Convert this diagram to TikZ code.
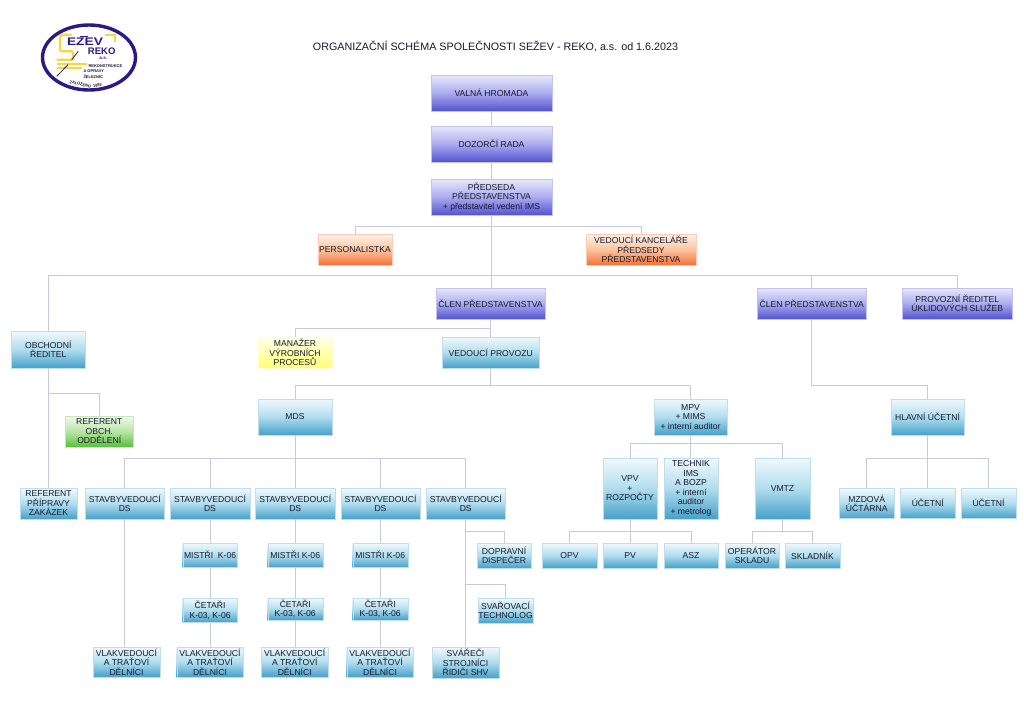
\documentclass[tikz,border=0pt]{standalone}
\usepackage{fontspec}
\setmainfont{Liberation Sans}
\definecolor{linec}{HTML}{C6C9DF}
\definecolor{ink}{HTML}{15192A}
\definecolor{VT}{HTML}{E8E8FB}\definecolor{VM}{HTML}{ABABEF}\definecolor{VB}{HTML}{5252D2}
\definecolor{CT}{HTML}{F0F9FC}\definecolor{CM}{HTML}{B0DDEE}\definecolor{CB}{HTML}{46A0CA}
\definecolor{OT}{HTML}{FFF3EA}\definecolor{OM}{HTML}{FBC4A0}\definecolor{OB}{HTML}{F47036}
\definecolor{YT}{HTML}{FFFFE8}\definecolor{YB}{HTML}{FFFF78}
\definecolor{GT}{HTML}{F2FAEE}\definecolor{GM}{HTML}{B8E4A6}\definecolor{GB}{HTML}{58C03A}
\definecolor{logob}{HTML}{2A1A86}\definecolor{logoy}{HTML}{F4D93A}
\tikzset{
  x=1pt,y=-1pt,
  boxbase/.style={rectangle,inner sep=0pt,align=center,text=ink,font=\fontsize{8.6}{9.5}\selectfont,draw=#1!35!white,line width=.4pt},
  vbox/.style={boxbase=VB,top color=VT,bottom color=VB,middle color=VM},
  cbox/.style={boxbase=CB,top color=CT,bottom color=CB,middle color=CM},
  obox/.style={boxbase=OB,top color=OT,bottom color=OB,middle color=OM},
  ybox/.style={boxbase=YB,top color=YT,bottom color=YB},
  gbox/.style={boxbase=GB,top color=GT,bottom color=GB,middle color=GM},
  conn/.style={draw=linec,line width=1pt},
  logoy/.style={draw=logoy,line width=2.3pt},
  logod/.style={draw=logob,line width=.8pt},
  logot/.style={font=\bfseries\fontsize{#1}{#1}\selectfont,text=logob,inner sep=0pt},
  logos/.style={font=\bfseries\fontsize{4}{4}\selectfont,text=ink,inner sep=0pt,anchor=west},
}
\newcommand{\bx}[7]{\node[#6,minimum width={(#4)-(#2)},minimum height={(#5)-(#3)}] (#1) at ({((#2)+(#4))/2},{((#3)+(#5))/2}) {#7};}
\newcommand{\cn}[3]{\draw[conn] (#1.south) -- (#1.south |- 0,#2) -| (#3.north);}
\newcommand{\vn}[2]{\draw[conn] (#1.south) -- (#1.south |- #2.north);}
\begin{document}
\begin{tikzpicture}
\useasboundingbox (0,0) rectangle (1024,725);
\fill[white] (0,0) rectangle (1024,725);
% logo
\draw[logob,line width=3.4pt,fill=white] (89,57.5) ellipse [x radius=46.5,y radius=32.5];
\draw[logoy,rounded corners=1.5pt] (71.7,34.7) -- (60,34.7) -- (60,51.3) -- (73.3,51.3) -- (73.3,59.7) -- (56.7,59.7);
\draw[logoy] (105,35.3) -- (115,35.3) -- (115,42);
\draw[logoy,line width=2pt] (56.7,63.6) -- (87,63.6);
\draw[logoy,line width=2pt] (56.7,68) -- (82,68);
\draw[logod] (56.7,76.3) -- (68,64.7);
\draw[logod] (71.7,59.7) -- (78.3,51.3);
\node[logot=11,xscale=1.25] (lg1) at (85,41.3) {EZEV};
\draw[logod,line width=1pt] (lg1.north west) ++(13,-.5) -- ++(8,0);
\node[logot=9.5] (lg2) at (101.7,51.3) {REKO};
\node[logot=4.6] (lg3) at (103.3,58.7) {a.s.};
\node[logos] (lg4) at (88.3,66.3) {REKONSTRUKCE};
\node[logos] (lg5) at (83.3,71) {A OPRAVY};
\node[logos] (lg6) at (83.3,76.3) {ŽELEZNIC};
\node[logos,anchor=center,rotate=-14] (lg7) at (80.5,84) {ZALOŽENO};
\node[logos,anchor=center,rotate=10] (lg8) at (97.5,85.5) {1992};
% title
\node[font=\fontsize{10.74}{12}\selectfont,text=ink,inner sep=0pt] (title) at (495.5,46) {ORGANIZAČNÍ SCHÉMA SPOLEČNOSTI SEŽEV - REKO, a.s. od 1.6.2023};
% boxes
\bx{valna}{431}{75}{552}{111}{vbox}{VALNÁ HROMADA}
\bx{dozor}{431}{126}{552}{162}{vbox}{DOZORČÍ RADA}
\bx{pred}{431}{179}{552}{215}{vbox}{PŘEDSEDA\\PŘEDSTAVENSTVA\\+ představitel vedení IMS}
\bx{pers}{318}{234}{392}{265}{obox}{PERSONALISTKA}
\bx{kanc}{586}{234}{696}{265}{obox}{VEDOUCÍ KANCELÁŘE\\PŘEDSEDY\\PŘEDSTAVENSTVA}
\bx{clen}{436}{288}{545}{319}{vbox}{ČLEN PŘEDSTAVENSTVA}
\bx{clenb}{757}{288}{866.5}{319}{vbox}{ČLEN PŘEDSTAVENSTVA}
\bx{uklid}{902.5}{288}{1012}{319}{vbox}{PROVOZNÍ ŘEDITEL\\ÚKLIDOVÝCH SLUŽEB}
\bx{obch}{11.5}{331}{85}{368}{cbox}{OBCHODNÍ\\ŘEDITEL}
\bx{manaz}{258}{337}{332}{368}{ybox}{MANAŽER\\VÝROBNÍCH\\PROCESŮ}
\bx{vedp}{442}{337}{539.5}{368}{cbox}{VEDOUCÍ PROVOZU}
\bx{mds}{258}{399}{332}{435}{cbox}{MDS}
\bx{mpv}{654}{399}{727}{435}{cbox}{MPV\\+ MIMS\\+ interní auditor}
\bx{hlav}{891}{399}{964}{435}{cbox}{HLAVNÍ ÚČETNÍ}
\bx{refo}{65.5}{416}{133}{447}{gbox}{REFERENT\\OBCH.\\ODDĚLENÍ}
\bx{refp}{20}{488}{77}{519}{cbox}{REFERENT\\PŘÍPRAVY\\ZAKÁZEK}
\bx{sa}{85}{488}{164.5}{519}{cbox}{STAVBYVEDOUCÍ\\DS}
\bx{sb}{170}{488}{250}{519}{cbox}{STAVBYVEDOUCÍ\\DS}
\bx{sc}{255.5}{488}{335}{519}{cbox}{STAVBYVEDOUCÍ\\DS}
\bx{sd}{341}{488}{420}{519}{cbox}{STAVBYVEDOUCÍ\\DS}
\bx{se}{426}{488}{505.5}{519}{cbox}{STAVBYVEDOUCÍ\\DS}
\bx{vpv}{603}{458}{657}{519}{cbox}{VPV\\+\\ROZPOČTY}
\bx{tech}{664}{458}{718}{519}{cbox}{TECHNIK\\IMS\\A BOZP\\+ interní\\auditor\\+ metrolog}
\bx{vmtz}{755}{458}{810}{519}{cbox}{VMTZ}
\bx{mzd}{839}{488}{894.5}{518.5}{cbox}{MZDOVÁ\\ÚČTÁRNA}
\bx{uca}{900}{488}{955.5}{518.5}{cbox}{ÚČETNÍ}
\bx{ucb}{961}{488}{1016}{518.5}{cbox}{ÚČETNÍ}
\bx{opv}{542}{543}{597}{568}{cbox}{OPV}
\bx{pv}{603}{543}{657}{568}{cbox}{PV}
\bx{asz}{664}{543}{718}{568}{cbox}{ASZ}
\bx{oper}{725}{543}{779}{568}{cbox}{OPERÁTOR\\SKLADU}
\bx{skl}{785}{543}{840}{568}{cbox}{SKLADNÍK}
\bx{mb}{182.7}{543}{237.5}{567.5}{cbox}{MISTŘI\ \ K-06}
\bx{mc}{267.7}{543}{322.7}{567.5}{cbox}{MISTŘI K-06}
\bx{md}{352.7}{543}{407.7}{567.5}{cbox}{MISTŘI K-06}
\bx{disp}{477}{543}{531}{568}{cbox}{DOPRAVNÍ\\DISPEČER}
\bx{cb}{182.7}{598}{237.5}{622.3}{cbox}{ČETAŘI\\K-03, K-06}
\bx{cc}{267.7}{598}{322.7}{620}{cbox}{ČETAŘI\\K-03, K-06}
\bx{cd}{352.7}{598}{407.7}{620}{cbox}{ČETAŘI\\K-03, K-06}
\bx{svt}{478}{598}{533}{623}{cbox}{SVAŘOVACÍ\\TECHNOLOG}
\bx{va}{93}{647}{160}{677}{cbox}{VLAKVEDOUCÍ\\A TRAŤOVÍ\\DĚLNÍCI}
\bx{vb}{176.7}{647}{243.3}{677}{cbox}{VLAKVEDOUCÍ\\A TRAŤOVÍ\\DĚLNÍCI}
\bx{vc}{261.5}{647}{328}{677}{cbox}{VLAKVEDOUCÍ\\A TRAŤOVÍ\\DĚLNÍCI}
\bx{vd}{346.7}{647}{413.3}{677}{cbox}{VLAKVEDOUCÍ\\A TRAŤOVÍ\\DĚLNÍCI}
\bx{sv}{432}{647}{499}{678}{cbox}{SVÁŘEČI\\STROJNÍCI\\ŘIDIČI SHV}
% connectors
\vn{valna}{dozor}
\vn{dozor}{pred}
\vn{pred}{clen}
\cn{pred}{226}{pers}
\cn{pred}{226}{kanc}
\cn{pred}{275}{obch}
\cn{pred}{275}{clenb}
\cn{pred}{275}{uklid}
\vn{clen}{vedp}
\cn{clen}{328}{manaz}
\cn{vedp}{385}{mds}
\cn{vedp}{385}{mpv}
\cn{clenb}{385}{hlav}
\vn{obch}{refp}
\cn{obch}{393}{refo}
\cn{mds}{458}{sa}
\cn{mds}{458}{sb}
\vn{mds}{sc}
\cn{mds}{458}{sd}
\cn{mds}{458}{se}
\cn{mpv}{443}{vpv}
\vn{mpv}{tech}
\cn{mpv}{443}{vmtz}
\cn{hlav}{458}{mzd}
\vn{hlav}{uca}
\cn{hlav}{458}{ucb}
\cn{vpv}{531}{opv}
\vn{vpv}{pv}
\cn{vpv}{531}{asz}
\cn{vmtz}{531}{oper}
\cn{vmtz}{531}{skl}
\vn{sa}{va}
\vn{sb}{mb}
\vn{mb}{cb}
\vn{cb}{vb}
\vn{sc}{mc}
\vn{mc}{cc}
\vn{cc}{vc}
\vn{sd}{md}
\vn{md}{cd}
\vn{cd}{vd}
\vn{se}{sv}
\cn{se}{531}{disp}
\cn{se}{584}{svt}
\end{tikzpicture}
\end{document}
